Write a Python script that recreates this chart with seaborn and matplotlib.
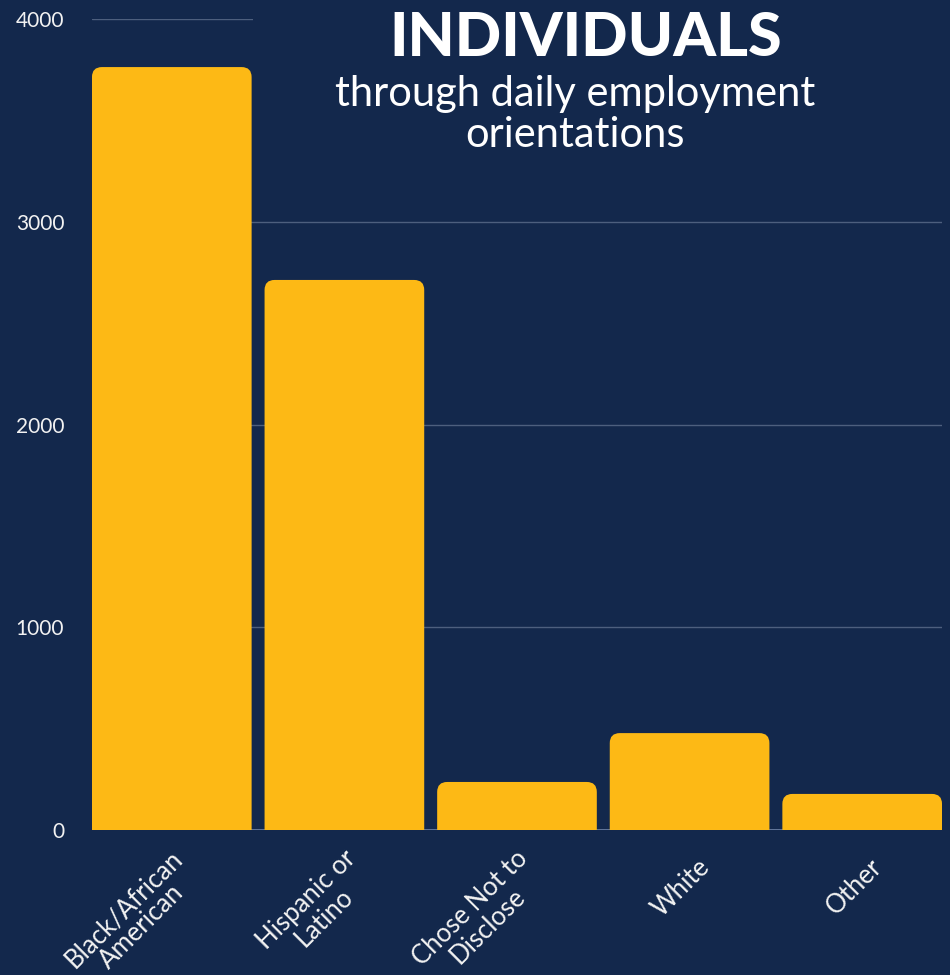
import matplotlib
matplotlib.use("Agg")
import matplotlib.pyplot as plt
import matplotlib.transforms as mtransforms
import seaborn as sns
import pandas as pd
from matplotlib.patches import FancyBboxPatch, Rectangle

BG = "#13284c"
BAR = "#fdb915"
GRID = "#4d5f7e"
TXT = "#f2f2f2"

categories = ["Black/African\nAmerican", "Hispanic or\nLatino", "Chose Not to\nDisclose", "White", "Other"]
counts = [3763, 2713, 237, 478, 178]
yticks = [0, 1000, 2000, 3000, 4000]

df = pd.DataFrame({"group": categories, "count": counts})

sns.set_style("dark")
plt.rcParams["font.family"] = ["Lato", "DejaVu Sans"]

fig = plt.figure(figsize=(9.5, 9.75), dpi=100, facecolor=BG)
ax = fig.add_axes([0.0968, 0.1487, 0.8948, 0.8318])
ax.set_facecolor(BG)

w = 0.925
sns.barplot(data=df, x="group", y="count", color=BAR, width=w, saturation=1, ax=ax, zorder=3)

# swap flat bars for bars with rounded top corners (bottom pushed below 0 and clipped)
rad_x = 10 / 172.5
rad_y = 10 / 202.75 * 1000
for p in list(ax.patches):
    x0, y0, bw, bh = p.get_x(), p.get_y(), p.get_width(), p.get_height()
    p.set_visible(False)
    ax.add_patch(FancyBboxPatch((x0, y0 - 2 * rad_y), bw, bh + 2 * rad_y,
                                boxstyle=f"round,pad=0,rounding_size={rad_x}",
                                mutation_aspect=rad_y / rad_x,
                                fc=BAR, ec="none", zorder=3))

ax.set_xlim(-w / 2, len(categories) - 1 + w / 2)
ax.set_ylim(0, 4000)
ax.set_yticks(yticks)
ax.grid(axis="y", color=GRID, linewidth=1, zorder=0)
ax.grid(axis="x", visible=False)
for s in ax.spines.values():
    s.set_visible(False)
ax.axhline(0, color="#6f83a6", linewidth=1.2, zorder=1)

ax.set_xlabel("")
ax.set_ylabel("")
ax.tick_params(axis="y", length=0, pad=20, labelsize=15, labelcolor=TXT)
ax.tick_params(axis="x", length=0, pad=24, labelsize=18.5, labelcolor=TXT)
shift = mtransforms.ScaledTranslation(16 / 100, 0, fig.dpi_scale_trans)
for lab in ax.get_xticklabels():
    lab.set_rotation(45)
    lab.set_ha("right")
    lab.set_va("center")
    lab.set_rotation_mode("anchor")
    lab.set_multialignment("center")
    lab.set_linespacing(1.0)
    lab.set_transform(lab.get_transform() + shift)

# title block (its box hides the grid line behind it)
fig.text(0.616, 0.961, "INDIVIDUALS", ha="center", va="center", color="white",
         fontsize=44, fontweight="black", zorder=5)
fig.text(0.605, 0.883, "through daily employment\norientations", ha="center", va="center",
         color="white", fontsize=30, linespacing=1.1, zorder=5)
fig.patches.append(Rectangle((253 / 950, 1 - 165 / 975), 700 / 950, 165 / 975,
                             transform=fig.transFigure, fc=BG, ec="none", zorder=4))

fig.savefig("out.png", dpi=100, facecolor=BG)
